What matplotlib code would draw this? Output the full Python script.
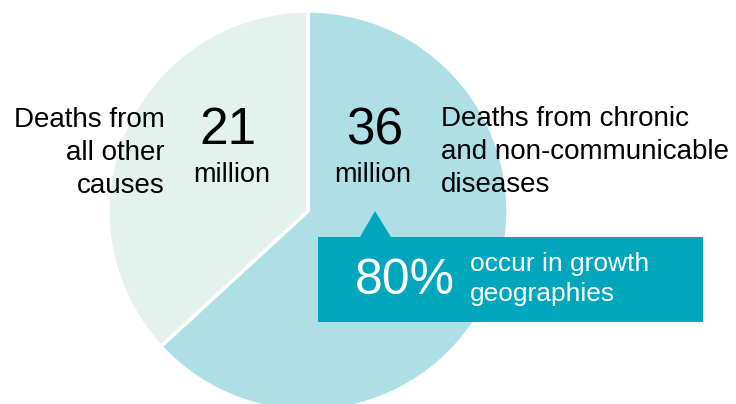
import matplotlib.pyplot as plt
from matplotlib.patches import Polygon

# deaths per year, millions
labels = ["Deaths from chronic\nand non-communicable\ndiseases", "Deaths from\nall other\ncauses"]
deaths = [36, 21]
share_growth = 80
colors = ["#aedfe4", "#e3f2ed"]
teal = "#00a7bc"


def main():
    plt.rcParams['font.family'] = ['Liberation Sans', 'DejaVu Sans']
    fig = plt.figure(figsize=(7.36, 4.04), dpi=100)
    ax = fig.add_axes([0, 0, 1, 1])
    ax.set_aspect('equal')
    ax.axis('off')

    H = 404
    ax.pie(deaths, colors=colors, startangle=90, counterclock=False,
           center=(308, H - 211), radius=200,
           wedgeprops=dict(edgecolor='white', linewidth=2.5))
    ax.set_xlim(0, 736)
    ax.set_ylim(0, 404)

    # big numbers
    ax.text(228, H - 131, str(deaths[1]), fontsize=37, ha='center', va='center')
    ax.text(232, H - 175, "million", fontsize=19.5, ha='center', va='center')
    ax.text(375, H - 131, str(deaths[0]), fontsize=37, ha='center', va='center')
    ax.text(373, H - 175, "million", fontsize=19.5, ha='center', va='center')

    # side labels
    ax.text(165, H - 153, labels[1], fontsize=20, ha='right', va='center',
            linespacing=1.35)
    ax.text(441, H - 152, labels[0], fontsize=20, ha='left', va='center',
            linespacing=1.35)

    # callout
    box = Polygon([(318, H - 237), (360, H - 237), (375, H - 211), (391, H - 237),
                   (703, H - 237), (703, H - 322), (318, H - 322)],
                  closed=True, facecolor=teal, edgecolor='none')
    ax.add_patch(box)
    ax.text(405, H - 281, f"{share_growth}%", fontsize=36, color='white',
            ha='center', va='center')
    ax.text(470, H - 279, "occur in growth\ngeographies", fontsize=19,
            color='white', ha='left', va='center', linespacing=1.32)

    fig.savefig('out.png', dpi=100)


if __name__ == "__main__":
    main()
